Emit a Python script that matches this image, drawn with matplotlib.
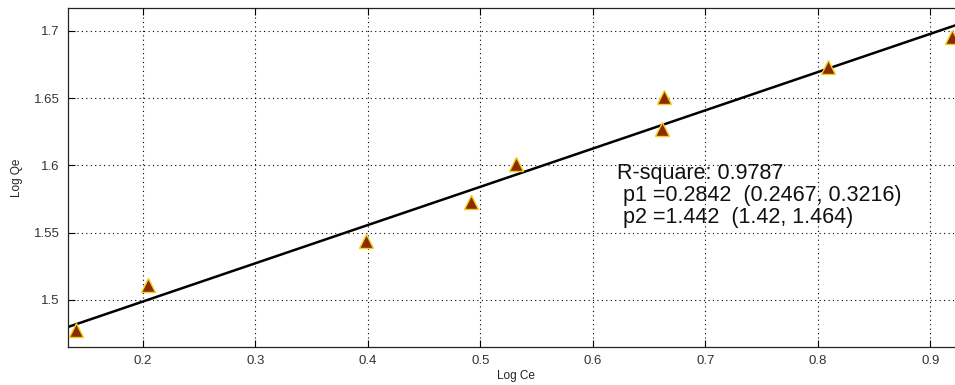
import matplotlib
matplotlib.use("Agg")
import matplotlib.pyplot as plt
import numpy as np

plt.rcParams['font.family'] = ['Liberation Sans', 'DejaVu Sans']

log_ce = [0.1404, 0.2044, 0.398, 0.4916, 0.5316, 0.6613, 0.6631, 0.8089, 0.919]
log_qe = [1.4778, 1.511, 1.5437, 1.5726, 1.6007, 1.6267, 1.651, 1.6733, 1.6956]
p1, p2 = 0.2842, 1.442
xticks = [0.2, 0.3, 0.4, 0.5, 0.6, 0.7, 0.8, 0.9]
yticks = [1.5, 1.55, 1.6, 1.65, 1.7]
xlim = (0.1333, 0.93)
ylim = (1.465, 1.717)

fig = plt.figure(figsize=(9.55, 3.85), dpi=100)
ax = fig.add_axes([68/955, 38/385, 896/955, 339/385])

xf = np.array(xlim)
ax.plot(xf, p1 * xf + p2, color='black', lw=1.8, zorder=2)
ax.plot(log_ce, log_qe, linestyle='none', marker='^', markersize=10,
        markerfacecolor='#8c2a00', markeredgecolor='#f0d020', markeredgewidth=1.0, zorder=3)

ax.set_xlim(*xlim)
ax.set_ylim(*ylim)
ax.set_xticks(xticks)
ax.set_yticks(yticks)
ax.set_xticklabels([f"{v:g}" for v in xticks])
ax.set_yticklabels([f"{v:g}" for v in yticks])
ax.grid(True, linestyle=(0, (1, 3)), color='black', lw=0.8)
ax.tick_params(direction='in', top=True, right=True, length=5, labelsize=9.5, labelcolor='#333333', pad=6)
for s in ax.spines.values():
    s.set_linewidth(0.9)
    s.set_color('#222222')

ax.set_xlabel('Log Ce', fontsize=8.5, labelpad=2, color='#222222')
ax.set_ylabel('Log Qe', fontsize=8.5, labelpad=8, color='#222222')

ax.text(617, 222, "R-square: 0.9787\n p1 =0.2842  (0.2467, 0.3216)\n p2 =1.442  (1.42, 1.464)",
        transform=None, fontsize=15.5, va='top', ha='left', linespacing=1.05, color='#111111')

fig.savefig('out.png', dpi=100)
